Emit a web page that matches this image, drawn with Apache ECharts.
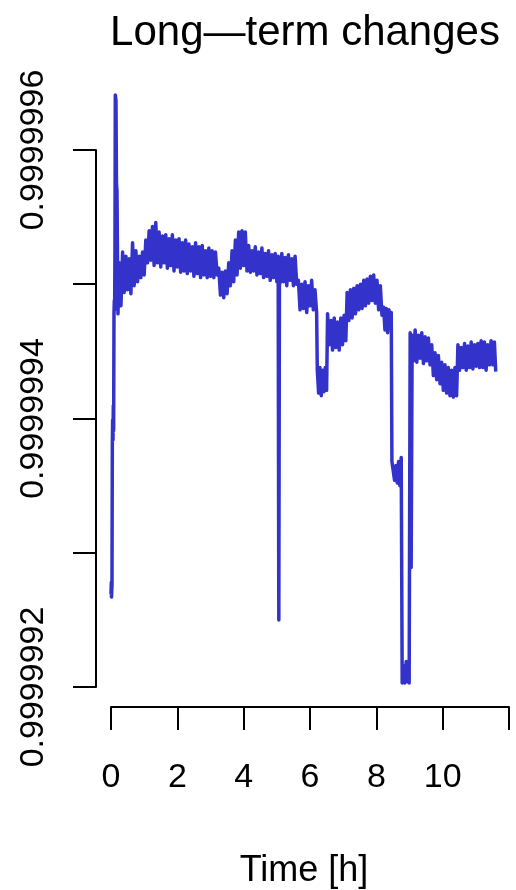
<!DOCTYPE html>
<html>
<head>
<meta charset="utf-8">
<title>Long-term changes</title>
<script src="https://cdn.jsdelivr.net/npm/echarts@6/dist/echarts.min.js"></script>
<style>
  html, body { margin: 0; padding: 0; background: #fff; }
  #chart { width: 516px; height: 890px; }
</style>
</head>
<body>
<div id="chart"></div>
<script>
// [time in hours, frequency ratio], segment by segment
const rampAndSpike = [
  [0.00, 0.999999269], [0.01, 0.999999278], [0.015, 0.999999267], [0.03, 0.999999276],
  [0.04, 0.999999380], [0.05, 0.999999399], [0.06, 0.999999384], [0.07, 0.999999410],
  [0.08, 0.999999391], [0.09, 0.999999478], [0.10, 0.999999488], [0.11, 0.999999481],
  [0.12, 0.999999530], [0.13, 0.999999641], [0.15, 0.999999637], [0.165, 0.999999575],
  [0.18, 0.999999570], [0.20, 0.999999508]
];
const plateau1 = [
  [0.21, 0.999999478], [0.25, 0.999999516], [0.30, 0.999999484], [0.35, 0.999999524],
  [0.40, 0.999999494], [0.45, 0.999999521], [0.50, 0.999999496], [0.55, 0.999999519],
  [0.60, 0.999999493], [0.65, 0.999999531], [0.70, 0.999999499], [0.75, 0.999999525],
  [0.80, 0.999999502], [0.85, 0.999999521], [0.90, 0.999999505], [0.95, 0.999999524],
  [1.00, 0.999999507]
];
const plateau2 = [
  [1.05, 0.999999533], [1.10, 0.999999516], [1.15, 0.999999540], [1.20, 0.999999518],
  [1.25, 0.999999543], [1.30, 0.999999514], [1.35, 0.999999546], [1.40, 0.999999516],
  [1.45, 0.999999539], [1.50, 0.999999513], [1.55, 0.999999536], [1.60, 0.999999516],
  [1.65, 0.999999537], [1.70, 0.999999512], [1.75, 0.999999534], [1.80, 0.999999514],
  [1.85, 0.999999537], [1.90, 0.999999510], [1.95, 0.999999533], [2.00, 0.999999513]
];
const plateau3 = [
  [2.05, 0.999999534], [2.10, 0.999999509], [2.15, 0.999999531], [2.20, 0.999999510],
  [2.25, 0.999999533], [2.30, 0.999999508], [2.35, 0.999999530], [2.40, 0.999999510],
  [2.45, 0.999999528], [2.50, 0.999999506], [2.55, 0.999999531], [2.60, 0.999999508],
  [2.65, 0.999999528], [2.70, 0.999999505], [2.75, 0.999999529], [2.80, 0.999999507],
  [2.85, 0.999999525], [2.90, 0.999999505], [2.95, 0.999999527], [3.00, 0.999999506],
  [3.05, 0.999999525], [3.10, 0.999999505], [3.15, 0.999999524], [3.20, 0.999999507]
];
const dipAndBump = [
  [3.25, 0.999999512], [3.30, 0.999999492], [3.35, 0.999999509], [3.40, 0.999999490],
  [3.45, 0.999999510], [3.50, 0.999999493], [3.55, 0.999999516], [3.60, 0.999999499],
  [3.65, 0.999999525], [3.70, 0.999999502], [3.75, 0.999999533], [3.80, 0.999999507],
  [3.85, 0.999999539], [3.90, 0.999999512], [3.95, 0.999999540], [4.00, 0.999999514],
  [4.05, 0.999999539], [4.10, 0.999999510]
];
const plateau4 = [
  [4.15, 0.999999529], [4.20, 0.999999509], [4.25, 0.999999525], [4.30, 0.999999510],
  [4.35, 0.999999528], [4.40, 0.999999507], [4.45, 0.999999524], [4.50, 0.999999508],
  [4.55, 0.999999527], [4.60, 0.999999505], [4.65, 0.999999523], [4.70, 0.999999506],
  [4.75, 0.999999525], [4.80, 0.999999503], [4.85, 0.999999522], [4.90, 0.999999505],
  [4.95, 0.999999523], [5.00, 0.999999502], [5.04, 0.999999521], [5.06, 0.999999250],
  [5.08, 0.999999520], [5.10, 0.999999501], [5.15, 0.999999523], [5.20, 0.999999502],
  [5.25, 0.999999520], [5.30, 0.999999499], [5.35, 0.999999522], [5.40, 0.999999503],
  [5.45, 0.999999519], [5.50, 0.999999499], [5.55, 0.999999521], [5.60, 0.999999500]
];
const step5 = [
  [5.65, 0.999999503], [5.70, 0.999999481], [5.75, 0.999999500], [5.80, 0.999999482],
  [5.85, 0.999999502], [5.90, 0.999999479], [5.95, 0.999999499], [6.00, 0.999999484],
  [6.05, 0.999999503], [6.10, 0.999999481], [6.15, 0.999999496], [6.20, 0.999999479]
];
const drop6 = [
  [6.22, 0.999999436], [6.26, 0.999999419], [6.30, 0.999999438], [6.34, 0.999999417],
  [6.38, 0.999999436], [6.42, 0.999999420], [6.46, 0.999999438], [6.50, 0.999999421]
];
const recover7 = [
  [6.53, 0.999999478], [6.58, 0.999999455], [6.63, 0.999999473], [6.68, 0.999999451],
  [6.73, 0.999999475], [6.78, 0.999999453], [6.83, 0.999999472], [6.88, 0.999999451],
  [6.93, 0.999999475], [6.98, 0.999999455], [7.03, 0.999999477], [7.08, 0.999999458]
];
const rise8 = [
  [7.12, 0.999999494], [7.17, 0.999999473], [7.22, 0.999999496], [7.27, 0.999999475],
  [7.32, 0.999999497], [7.37, 0.999999478], [7.42, 0.999999499], [7.47, 0.999999481],
  [7.52, 0.999999500], [7.57, 0.999999482], [7.62, 0.999999503], [7.67, 0.999999484],
  [7.72, 0.999999504], [7.77, 0.999999486], [7.82, 0.999999506], [7.87, 0.999999488],
  [7.92, 0.999999507], [7.97, 0.999999486], [8.02, 0.999999503], [8.07, 0.999999481],
  [8.12, 0.999999499], [8.17, 0.999999477], [8.22, 0.999999483], [8.26, 0.999999466],
  [8.30, 0.999999482], [8.34, 0.999999464], [8.38, 0.999999481], [8.42, 0.999999467],
  [8.45, 0.999999479]
];
const deepDrop = [
  [8.47, 0.999999368], [8.51, 0.999999369], [8.55, 0.999999354], [8.59, 0.999999365],
  [8.63, 0.999999352], [8.67, 0.999999368], [8.71, 0.999999350], [8.75, 0.999999371],
  [8.78, 0.999999203], [8.82, 0.999999216], [8.86, 0.999999203], [8.90, 0.999999219],
  [8.94, 0.999999204], [8.97, 0.999999214], [8.99, 0.999999203], [9.02, 0.999999464],
  [9.05, 0.999999289], [9.08, 0.999999462]
];
const tail = [
  [9.12, 0.999999443], [9.17, 0.999999466], [9.22, 0.999999442], [9.27, 0.999999462],
  [9.32, 0.999999445], [9.37, 0.999999464], [9.42, 0.999999441], [9.47, 0.999999461],
  [9.52, 0.999999443], [9.57, 0.999999460], [9.62, 0.999999440], [9.67, 0.999999455],
  [9.72, 0.999999432], [9.77, 0.999999449], [9.82, 0.999999429], [9.87, 0.999999447],
  [9.92, 0.999999426], [9.97, 0.999999442], [10.02, 0.999999421], [10.07, 0.999999440],
  [10.12, 0.999999419], [10.17, 0.999999438], [10.22, 0.999999417], [10.27, 0.999999436],
  [10.32, 0.999999416], [10.37, 0.999999438], [10.42, 0.999999417], [10.46, 0.999999455],
  [10.51, 0.999999436], [10.56, 0.999999453], [10.61, 0.999999438], [10.66, 0.999999456],
  [10.71, 0.999999436], [10.76, 0.999999454], [10.81, 0.999999438], [10.86, 0.999999457],
  [10.91, 0.999999437], [10.96, 0.999999455], [11.01, 0.999999439], [11.06, 0.999999456],
  [11.11, 0.999999438], [11.16, 0.999999458], [11.21, 0.999999438], [11.26, 0.999999457],
  [11.31, 0.999999436], [11.36, 0.999999455], [11.41, 0.999999440], [11.46, 0.999999458],
  [11.51, 0.999999440], [11.56, 0.999999457], [11.60, 0.999999435]
];

const xTicks = [0, 2, 4, 6, 8, 10, 12];
const yLabelled = ['0.9999992', '0.9999994', '0.9999996'];

const FONT = '"Liberation Sans", Arial, sans-serif';
const lineColor = '#3333cc';

const data = [].concat(rampAndSpike, plateau1, plateau2, plateau3, dipAndBump,
  plateau4, step5, drop6, recover7, rise8, deepDrop, tail);

const chart = echarts.init(document.getElementById('chart'));

chart.setOption({
  animation: false,
  backgroundColor: '#fff',
  title: [
    {
      text: 'Long—term changes', left: 300, top: 7, textAlign: 'center',
      textStyle: { fontFamily: FONT, fontSize: 42, fontWeight: 'normal', color: '#000' }
    },
    {
      text: 'Time [h]', left: 299, top: 848, textAlign: 'center',
      textStyle: { fontFamily: FONT, fontSize: 36, fontWeight: 'normal', color: '#000' }
    }
  ],
  grid: [
    // plotting area (data can go above the last y tick)
    { left: 111, top: 83, width: 398, height: 604 },
    // area that only spans the tick range, for the axes
    { left: 111, top: 150, width: 398, height: 537 }
  ],
  xAxis: [
    { gridIndex: 0, type: 'value', min: 0, max: 12, show: false },
    {
      gridIndex: 1, type: 'value', min: 0, max: 12, interval: 2, offset: 20,
      axisLine: { show: true, onZero: false, lineStyle: { color: '#000', width: 2 } },
      axisTick: { show: true, length: 23, lineStyle: { color: '#000', width: 2 } },
      splitLine: { show: false },
      axisLabel: {
        margin: 54, fontSize: 34, fontFamily: FONT, color: '#000',
        formatter: v => (xTicks.indexOf(v) >= 0 && v < 12 ? String(v) : '')
      }
    }
  ],
  yAxis: [
    { gridIndex: 0, type: 'value', min: 0.9999992, max: 0.99999965, show: false },
    {
      gridIndex: 1, type: 'value', min: 0.9999992, max: 0.9999996, interval: 0.0000001,
      offset: 15,
      axisLine: { show: true, onZero: false, lineStyle: { color: '#000', width: 2 } },
      axisTick: { show: true, length: 23, lineStyle: { color: '#000', width: 2 } },
      splitLine: { show: false },
      axisLabel: {
        rotate: 90, margin: 45, fontSize: 34, fontFamily: FONT, color: '#000',
        formatter: v => {
          const s = v.toFixed(7);
          return yLabelled.indexOf(s) >= 0 ? s : '';
        }
      }
    }
  ],
  series: [{
    type: 'line',
    xAxisIndex: 0,
    yAxisIndex: 0,
    data: data,
    showSymbol: false,
    clip: false,
    lineStyle: { color: lineColor, width: 3.5, join: 'round' }
  }]
});
</script>
</body>
</html>
